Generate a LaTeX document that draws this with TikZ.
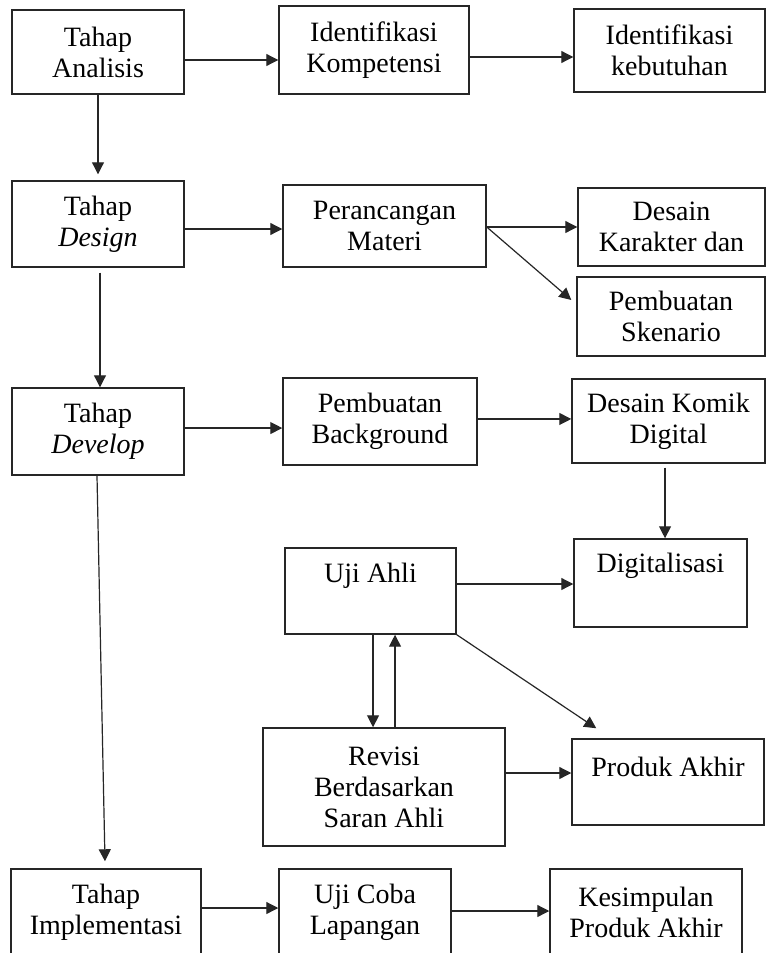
\documentclass[tikz,border=0pt]{standalone}
\usepackage{fontspec}
\setmainfont{Liberation Serif}
\usetikzlibrary{arrows.meta}
\begin{document}
\begin{tikzpicture}[x=0.75pt,y=-0.75pt,
  box/.style={draw=black!85, line width=1.1pt, rectangle, inner sep=0pt, align=center, font=\fontsize{21}{23.2}\selectfont},
  lbl/.style={inner sep=0pt, align=center, font=\fontsize{21}{23.2}\selectfont},
  arr/.style={draw=black!85, line width=0.9pt, -{Triangle[length=9pt,width=9pt]}}]
\useasboundingbox (0,0) rectangle (767,953);
\clip (0,0) rectangle (767,953);
\fill[white] (0,0) rectangle (767,953);
% boxes
\node[box, minimum width=172*0.75pt, minimum height=84*0.75pt] (ana) at (98,52) {Tahap\\Analisis};
\node[box, minimum width=190*0.75pt, minimum height=88*0.75pt] (komp) at (374,50) {Identifikasi\\Kompetensi};
\node[box, minimum width=191*0.75pt, minimum height=83*0.75pt] (kebu) at (669.5,50.5) {Identifikasi\\kebutuhan};
\node[box, minimum width=172*0.75pt, minimum height=86*0.75pt] (des) at (98,224) {Tahap\\\textit{Design}};
\node[box, minimum width=203*0.75pt, minimum height=82*0.75pt] (peran) at (384.5,226) {Perancangan\\Materi};
\node[box, minimum width=187*0.75pt, minimum height=78*0.75pt] (kar) at (671.5,227) {Desain\\Karakter dan};
\node[box, minimum width=188*0.75pt, minimum height=79*0.75pt] (sken) at (671,316.5) {Pembuatan\\Skenario};
\node[box, minimum width=172*0.75pt, minimum height=87*0.75pt] (dev) at (98,431.5) {Tahap\\\textit{Develop}};
\node[box, minimum width=194*0.75pt, minimum height=87*0.75pt] (bg) at (380,421.5) {Pembuatan\\Background};
\node[box, minimum width=193*0.75pt, minimum height=84*0.75pt] (komik) at (668.5,421) {Desain Komik\\Digital};
\node[box, minimum width=173*0.75pt, minimum height=88*0.75pt] (digi) at (660.5,583) {};
\node[lbl] (digiT) at (660.5,566) {Digitalisasi};
\node[box, minimum width=171*0.75pt, minimum height=86*0.75pt] (uji) at (370.5,591) {};
\node[lbl] (ujiT) at (370.5,576) {Uji Ahli};
\node[box, minimum width=242*0.75pt, minimum height=118*0.75pt] (rev) at (384,787) {Revisi\\Berdasarkan\\Saran Ahli};
\node[box, minimum width=192*0.75pt, minimum height=86*0.75pt] (prod) at (668,782) {};
\node[lbl] (prodT) at (668,767) {Produk Akhir};
\node[box, minimum width=190*0.75pt, minimum height=86*0.75pt] (impl) at (106,912) {Tahap\\Implementasi};
\node[box, minimum width=172*0.75pt, minimum height=86*0.75pt] (coba) at (365,912) {Uji Coba\\Lapangan};
\node[box, minimum width=192*0.75pt, minimum height=86*0.75pt] (kesi) at (646,912) {Kesimpulan\\Produk Akhir};
% connectors
\draw[arr] ([yshift=-6pt]ana.east) -- ([yshift=-6pt]ana.east -| komp.west);
\draw[arr] ([yshift=-5.25pt]komp.east) -- ([yshift=-5.25pt]komp.east -| kebu.west);
\draw[arr, shorten >=4.5pt] (ana.south) -- (des.north);
\draw[arr] ([yshift=-3.75pt]des.east) -- ([yshift=-3.75pt]des.east -| peran.west);
\draw[arr] ([yshift=-0.75pt]peran.east) -- ([yshift=-0.75pt]peran.east -| kar.west);
\draw[arr] ([yshift=-0.75pt]peran.east) -- ([xshift=-3.75pt,yshift=12.4pt]sken.west);
\draw[arr, shorten <=3.75pt] ([xshift=1.5pt]des.south) -- ([xshift=1.5pt]dev.north);
\draw[arr] ([yshift=2.6pt]dev.east) -- ([yshift=2.6pt]dev.east -| bg.west);
\draw[arr] ([yshift=1.9pt]bg.east) -- ([yshift=1.9pt]bg.east -| komik.west);
\draw[arr, shorten <=3pt] ([xshift=-2.6pt]komik.south) -- ([xshift=-2.6pt]komik.south |- digi.north);
\draw[arr] ([yshift=5.25pt]uji.east) -- ([yshift=5.25pt]uji.east -| digi.west);
\draw[arr] ([xshift=-0.75pt]dev.south) -- ([xshift=-0.75pt,yshift=5.25pt]impl.north);
\draw[arr] ([xshift=1.9pt]uji.south) -- ([xshift=1.9pt]uji.south |- rev.north);
\draw[arr] ([xshift=18.4pt]uji.south |- rev.north) -- ([xshift=18.4pt]uji.south);
\draw[arr] (uji.south east) -- ([xshift=18.75pt,yshift=7.5pt]prod.north west);
\draw[arr] ([yshift=10.5pt]rev.east) -- ([yshift=10.5pt]rev.east -| prod.west);
\draw[arr] ([yshift=3pt]impl.east) -- ([yshift=3pt]impl.east -| coba.west);
\draw[arr] ([yshift=0.75pt]coba.east) -- ([yshift=0.75pt]coba.east -| kesi.west);
\end{tikzpicture}
\end{document}
